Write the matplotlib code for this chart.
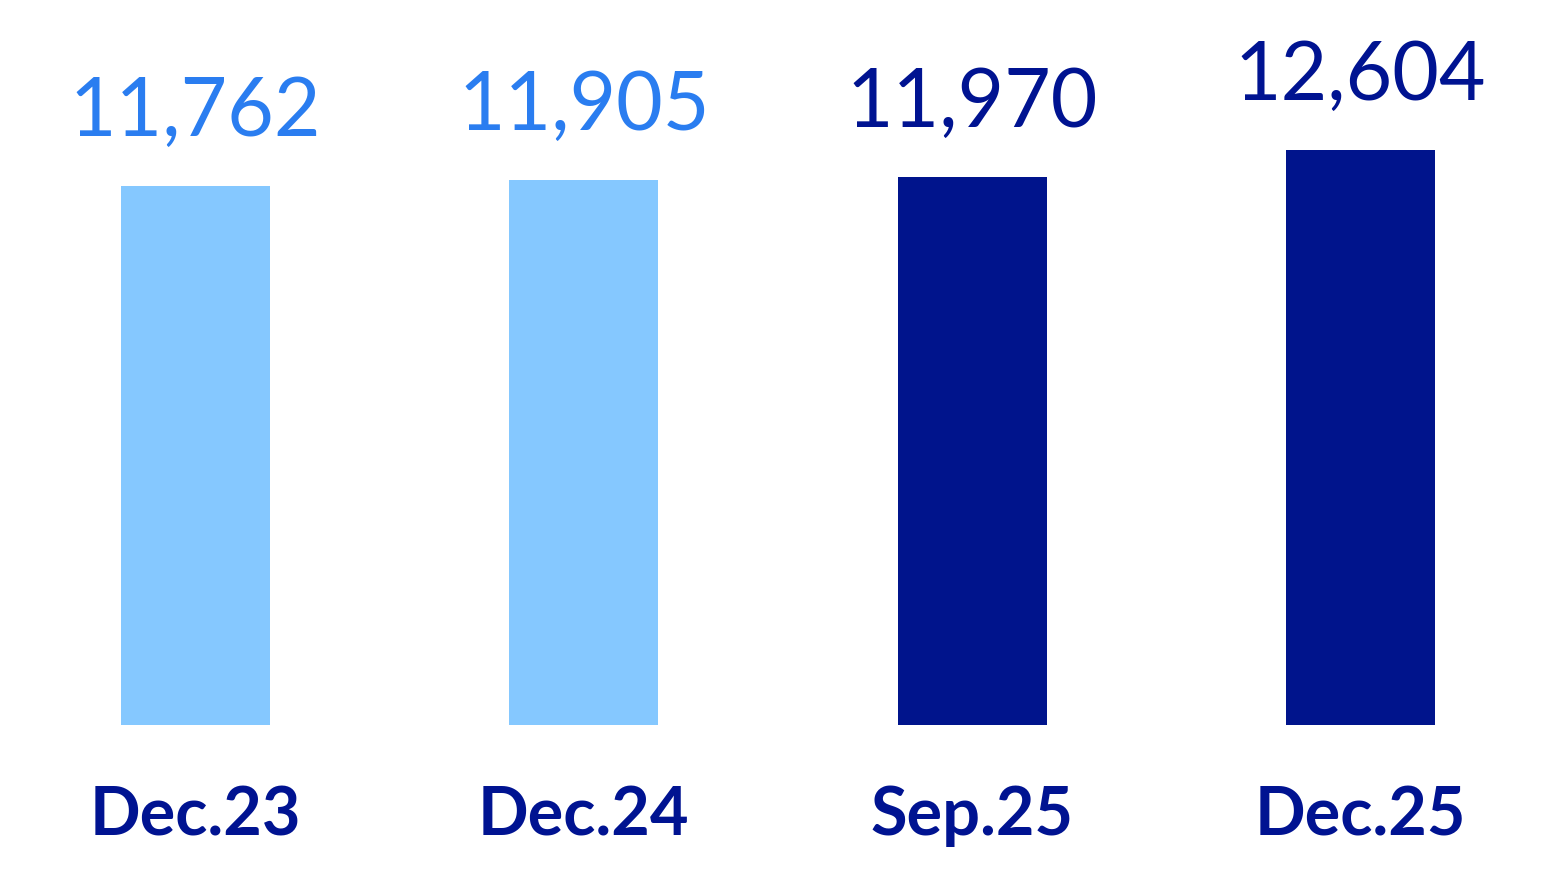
import matplotlib
matplotlib.use('Agg')
from matplotlib import pyplot as plt
from matplotlib import transforms

# data
categories = ['Dec.23', 'Dec.24', 'Sep.25', 'Dec.25']
values = [11762, 11905, 11970, 12604]
value_labels = ['11,762', '11,905', '11,970', '12,604']

bar_colors = ['#85C8FF', '#85C8FF', '#00148C', '#00148C']
text_colors = ['#2A7DF0', '#2A7DF0', '#001391', '#001391']
NAVY = '#001391'

W, H, DPI = 1554, 876, 100


def main():
    fig = plt.figure(figsize=(W / DPI, H / DPI), dpi=DPI)
    # axes spans the full width, bottom at bar baseline (y px 725)
    ax = fig.add_axes([0, (H - 725) / H, 1, 725 / H])

    # the source chart does not start its bars at zero
    scale = 36 / 842  # px per unit
    ylow = 11762 - 539 / scale
    ax.set_ylim(ylow, ylow + 725 / scale)

    x = list(range(len(categories)))
    ax.bar(x, [v - ylow for v in values], bottom=ylow, width=0.384,
           color=bar_colors)

    xmin = -195.5 / 388.33
    ax.set_xlim(xmin, xmin + W / 388.33)
    ax.axis('off')

    for xi, v, lab, c in zip(x, values, value_labels, text_colors):
        ax.annotate(lab, (xi, v), xytext=(0, 36), textcoords='offset points',
                    ha='center', va='baseline', fontsize=58, color=c,
                    family='Lato')

    trans = transforms.blended_transform_factory(ax.transData, fig.transFigure)
    for xi, cat in zip(x, categories):
        ax.text(xi, (H - 835) / H, cat, transform=trans, ha='center',
                va='baseline', fontsize=48, fontweight='bold', color=NAVY,
                family='Lato')

    fig.savefig('out.png', dpi=DPI, facecolor='white')


if __name__ == '__main__':
    main()
